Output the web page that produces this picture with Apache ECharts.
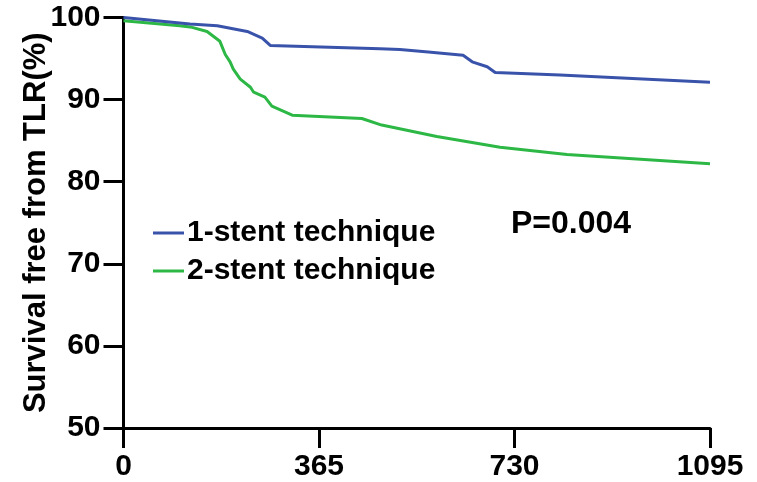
<!DOCTYPE html>
<html lang="en">
<head>
    <meta charset="UTF-8">
    <title>Survival free from TLR</title>
    <script src="https://cdn.jsdelivr.net/npm/echarts@6/dist/echarts.min.js"></script>
    <style>
        html, body { margin: 0; padding: 0; background: #fff; }
    </style>
</head>
<body>
    <div id="main" style="width: 757px; height: 482px"></div>
<script>
    // days / survival (%)
    var oneStentDays = [0, 124, 175, 231, 259, 274, 479, 516, 569, 634, 651, 679, 694, 815, 1095];
    var oneStentSurv = [100, 99.2, 99.0, 98.3, 97.5, 96.6, 96.2, 96.1, 95.8, 95.4, 94.6, 94.0, 93.3, 93.0, 92.1];

    var twoStentDays = [0, 105, 128, 156, 180, 190, 199, 205, 218, 237, 243, 264, 277, 315, 445, 482, 585, 703, 828, 1095];
    var twoStentSurv = [99.6, 99.0, 98.8, 98.3, 97.1, 95.5, 94.6, 93.7, 92.5, 91.5, 90.9, 90.3, 89.2, 88.1, 87.7, 86.9, 85.5, 84.2, 83.3, 82.2];

    var xTicks = [0, 365, 730, 1095];
    var yTicks = [50, 60, 70, 80, 90, 100];
    var seriesNames = ['1-stent technique', '2-stent technique'];
    var pValue = 'P=0.004';

    function pairs(xs, ys) {
        var out = [];
        for (var i = 0; i < xs.length; i++) out.push([xs[i], ys[i]]);
        return out;
    }

    var font = '"Liberation Sans", Arial, sans-serif';
    var chart = echarts.init(document.getElementById('main'));
    chart.setOption({
        animation: false,
        grid: { left: 123.5, right: 47, top: 17.5, bottom: 50 },
        legend: {
            orient: 'vertical',
            left: 148,
            top: 213,
            itemWidth: 31,
            itemHeight: 3,
            itemGap: 8,
            icon: 'rect',
            data: seriesNames,
            textStyle: { fontFamily: font, fontWeight: 'bold', fontSize: 30, color: '#000', padding: [0, 0, 0, -2] }
        },
        xAxis: {
            type: 'value',
            min: xTicks[0],
            max: xTicks[xTicks.length - 1],
            interval: 365,
            axisLine: { lineStyle: { color: '#000', width: 3 } },
            axisTick: { length: 20, lineStyle: { color: '#000', width: 3 } },
            axisLabel: {
                margin: 24, color: '#000', fontFamily: font, fontWeight: 'bold', fontSize: 30,
                formatter: function (v) { return String(v); }
            },
            splitLine: { show: false }
        },
        yAxis: {
            type: 'value',
            min: yTicks[0],
            max: yTicks[yTicks.length - 1],
            interval: 10,
            name: 'Survival free from TLR(%)',
            nameLocation: 'middle',
            nameRotate: 90,
            nameGap: 72,
            nameMoveOverlap: false,
            nameTextStyle: { color: '#000', fontFamily: font, fontWeight: 'bold', fontSize: 31 },
            axisLine: { show: true, lineStyle: { color: '#000', width: 3 } },
            axisTick: { show: true, length: 20, lineStyle: { color: '#000', width: 3 } },
            axisLabel: { margin: 23, color: '#000', fontFamily: font, fontWeight: 'bold', fontSize: 30 },
            splitLine: { show: false }
        },
        graphic: [{
            type: 'text',
            left: 511,
            top: 208,
            style: { text: pValue, fill: '#000', font: 'bold 32px ' + font }
        }],
        series: [{
            name: seriesNames[0],
            type: 'line',
            data: pairs(oneStentDays, oneStentSurv),
            showSymbol: false,
            color: '#3A53AA',
            lineStyle: { width: 3 },
            z: 3
        }, {
            name: seriesNames[1],
            type: 'line',
            data: pairs(twoStentDays, twoStentSurv),
            showSymbol: false,
            color: '#2DB846',
            lineStyle: { width: 3 },
            z: 2
        }]
    });
</script>
</body>
</html>
